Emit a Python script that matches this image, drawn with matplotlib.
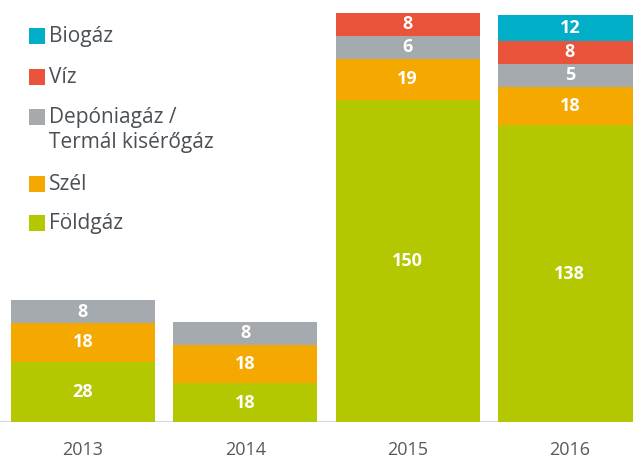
"""Stacked bars of renewable/gas capacity by year (Hungarian labels)."""

import matplotlib.pyplot as plt
from matplotlib.patches import Rectangle
import numpy as np

plt.rcParams.update(
    {
        "font.family": ["Open Sans", "DejaVu Sans"],
        "axes.linewidth": 0,
    }
)

years = ["2013", "2014", "2015", "2016"]
series_names = ["Földgáz", "Szél", "Depóniagáz /\nTermál kisérőgáz", "Víz", "Biogáz"]
foldgaz = [28, 18, 150, 138]
szel = [18, 18, 19, 18]
deponia = [8, 8, 6, 5]
viz = [0, 0, 8, 8]
biogaz = [0, 0, 0, 12]
series_values = [foldgaz, szel, deponia, viz, biogaz]
colors = ["#b3c800", "#f5a800", "#a4aaae", "#e8533a", "#00aec7"]

# the source chart gives tiny segments a minimum drawn height so labels fit
MIN_DRAWN = 10.7

W, H = 633, 459
fig = plt.figure(figsize=(W / 100, H / 100), dpi=100)
ax = fig.add_axes([0, 37 / H, 1, 422 / H])

x = np.arange(len(years))
bottom = np.zeros(len(years))
for vals, color in zip(series_values, colors):
    vals = np.array(vals, dtype=float)
    drawn = np.where(vals > 0, np.maximum(vals, MIN_DRAWN), 0)
    ax.bar(x, drawn, width=0.887, bottom=bottom, color=color, linewidth=0)
    for xi, v, d, b in zip(x, vals, drawn, bottom):
        if v > 0:
            ax.text(xi, b + d / 2, f"{int(v)}", ha="center", va="center",
                    color="white", fontsize=13, fontweight="bold")
    bottom += drawn

ax.set_xlim(-0.511, 3.389)
ax.set_ylim(0, 196.3)
ax.axhline(0, color="#d5d8da", linewidth=1.5, zorder=0)
ax.set_yticks([])
ax.set_xticks(x)
ax.set_xticklabels(years, fontsize=13, color="#555a5f")
ax.tick_params(axis="x", length=0, pad=14)
for s in ax.spines.values():
    s.set_visible(False)

# legend, drawn by hand so the two-line entry aligns on its first line
legend_rows = [36, 77, 117, 184, 223]
for name, color, row in zip(series_names[::-1], colors[::-1], legend_rows):
    fig.patches.append(
        Rectangle((29 / W, 1 - (row + 8) / H), 16 / W, 16 / H,
                  transform=fig.transFigure, color=color, linewidth=0)
    )
    fig.text(49 / W, 1 - (row - 10) / H, name, ha="left", va="top",
             fontsize=15, color="#4a5055", linespacing=1.25)

fig.savefig("out.png", dpi=100)
